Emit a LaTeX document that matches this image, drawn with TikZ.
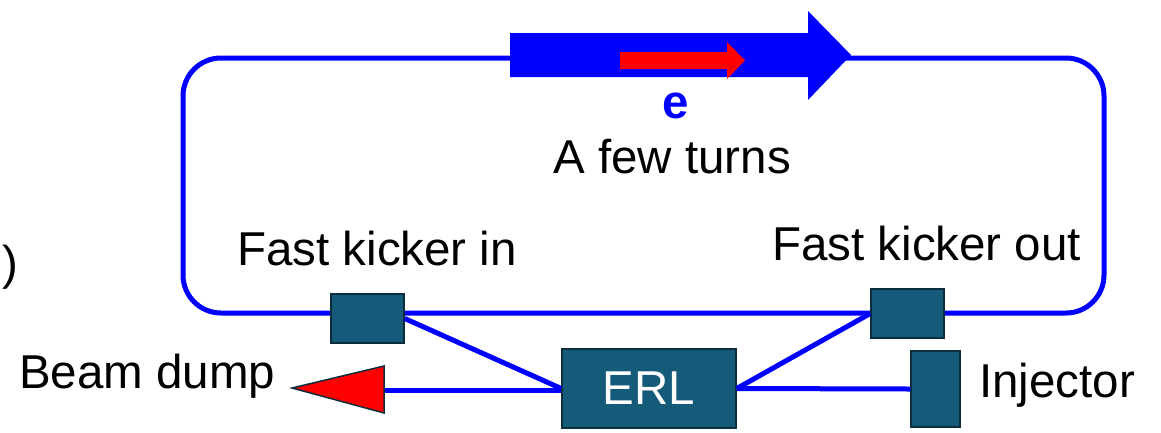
\documentclass[tikz,border=0pt]{standalone}
\usepackage{fontspec}
\setmainfont{Liberation Sans}
\definecolor{boxfill}{HTML}{135B78}
\definecolor{boxline}{HTML}{0B2D3D}
\begin{document}
\begin{tikzpicture}[x=1pt,y=-1pt,
  beam/.style={draw=blue,line width=5pt},
  devbox/.style={draw=boxline,fill=boxfill,line width=1.5pt,inner sep=0pt,rectangle},
  lbl/.style={anchor=base west,inner sep=0pt,font=\fontsize{47.5}{57}\selectfont}
]
\useasboundingbox (0,0) rectangle (1161,432);
% ring
\draw[beam,rounded corners=38pt] (183,58) rectangle (1104,313);
% big arrow
\fill[blue] (510,33) -- (808,33) -- (808,11) -- (851,55) -- (808,100) -- (808,77) -- (510,77) -- cycle;
\fill[red] (620,52) -- (727,52) -- (727,42) -- (745,60.5) -- (727,79) -- (727,69) -- (620,69) -- cycle;
% labels
\node[anchor=base,inner sep=0pt,font=\fontsize{47.5}{57}\selectfont\bfseries,text=blue] (elab) at (676,118) {e};
\node[lbl] (turns) at (553,173) {A few turns};
\node[lbl] (kinlab) at (237,265) {Fast kicker in};
\node[lbl] (koutlab) at (772,260) {Fast kicker out};
\node[lbl] (dumplab) at (19,388) {Beam dump};
\node[lbl] (injlab) at (979,397) {Injector};
\node[lbl] (paren) at (2,279) {)};
% devices
\node[devbox,minimum width=73pt,minimum height=49pt] (kin) at (367.5,318.5) {};
\node[devbox,minimum width=73pt,minimum height=49pt] (kout) at (907.5,313.5) {};
\node[devbox,minimum width=174pt,minimum height=79pt,text=white,font=\fontsize{47.5}{57}\selectfont] (erl) at (649,388.5) {ERL};
\node[devbox,minimum width=49pt,minimum height=76pt] (inj) at (935.5,389) {};
% connections
\draw[beam] (kin.east) -- (erl.west);
\draw[beam] (erl.east) -- (kout.west);
\draw[beam] (erl.east) -- (inj.west);
\coordinate (dumpbase) at (384,390);
\draw[beam] (erl.west |- dumpbase) -- (dumpbase);
\filldraw[fill=red,draw=boxline,line width=1.5pt] (dumpbase) ++(0,-24) -- (292,388) -- (384,413) -- cycle;
\end{tikzpicture}
\end{document}
